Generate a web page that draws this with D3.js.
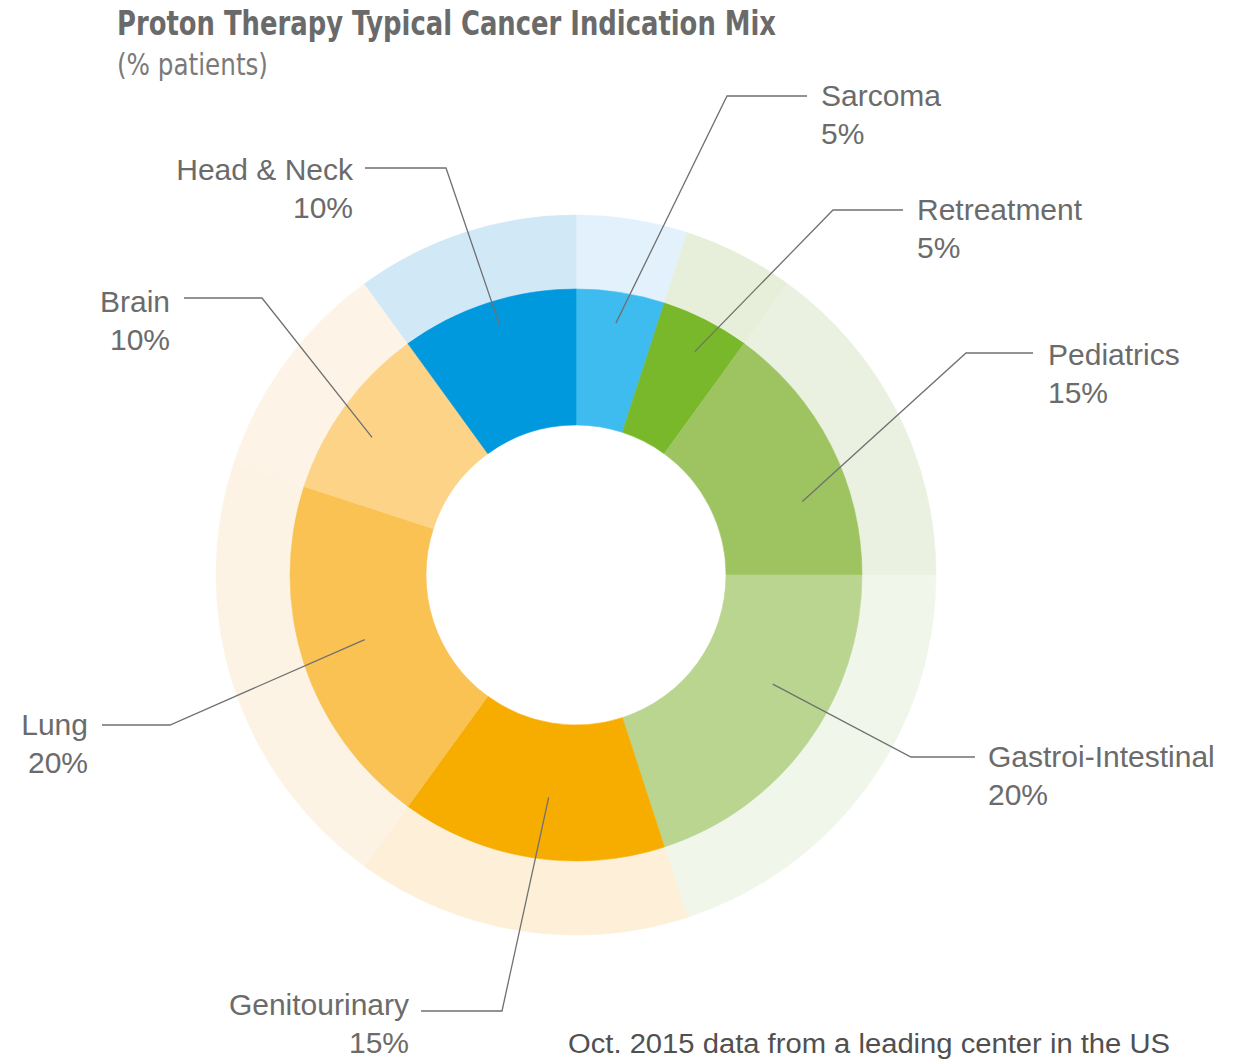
<!DOCTYPE html>
<html>
<head>
<meta charset="utf-8">
<script src="https://cdn.jsdelivr.net/npm/d3@7"></script>
<style>
  html, body { margin:0; padding:0; background:#fff; }
  svg { display:block; }
  .lbl { font-family:"Liberation Sans", Arial, sans-serif; font-size:30px; fill:#6b6b6b; }
  .leader { fill:none; stroke:#707070; stroke-width:1.3; }
</style>
</head>
<body>
<svg id="chart" width="1238" height="1061"></svg>
<script>
// ---- data ----
const CATEGORIES = ["Sarcoma","Retreatment","Pediatrics","Gastroi-Intestinal","Genitourinary","Lung","Brain","Head & Neck"];
const VALUES     = [5, 5, 15, 20, 15, 20, 10, 10];
const COLORS     = ["#3ebcef","#79b82b","#9dc460","#b9d58f","#f7ac00","#f9c252","#fcd387","#0099dd"];
const OUTER_COLORS = ["#e2f1fb","#e7efda","#ebf1e1","#f1f6ea","#fdefd8","#fdf3e4","#fdf4e7","#d1e8f7"];

// label layout: anchor inside slice (angle nudge deg, radius), elbow, text anchor
const LAYOUT = [
  { nudge:  0, r:255, elbow:[727, 96],  end:[807, 96],  tx:821,  ty:106, anchor:"start" },
  { nudge:  1, r:253, elbow:[833, 210], end:[903, 210], tx:917,  ty:220, anchor:"start" },
  { nudge:  9, r:238, elbow:[966, 353], end:[1033,353], tx:1048, ty:365, anchor:"start" },
  { nudge: -7, r:225, elbow:[911, 757], end:[975, 757], tx:988,  ty:767, anchor:"start" },
  { nudge: -2, r:224, elbow:[502,1011], end:[421,1011], tx:409,  ty:1015, anchor:"end" },
  { nudge:  1, r:221, elbow:[170, 725], end:[102, 725], tx:88,   ty:735, anchor:"end" },
  { nudge: -2, r:246, elbow:[262, 298], end:[184, 298], tx:170,  ty:312, anchor:"end" },
  { nudge:  1, r:261, elbow:[446, 168], end:[365, 168], tx:353,  ty:180, anchor:"end" }
];

const svg = d3.select("#chart");
const cx = 576, cy = 575;
const R_IN = 150, R_MID = 286, R_OUT = 360;

const rows = CATEGORIES.map((c,i)=>({ name:c, value:VALUES[i], color:COLORS[i], outer:OUTER_COLORS[i], lay:LAYOUT[i] }));

const pie = d3.pie().sort(null).value(d=>d.value).startAngle(0).endAngle(2*Math.PI);
const arcs = pie(rows);

const g = svg.append("g").attr("transform", `translate(${cx},${cy})`);

const outerArc = d3.arc().innerRadius(R_MID).outerRadius(R_OUT);
const innerArc = d3.arc().innerRadius(R_IN).outerRadius(R_MID);

g.selectAll("path.outer").data(arcs).join("path")
  .attr("class","outer")
  .attr("d", outerArc)
  .attr("fill", d=>d.data.outer)
  .attr("stroke", d=>d.data.outer).attr("stroke-width",0.6);

g.selectAll("path.inner").data(arcs).join("path")
  .attr("class","inner")
  .attr("d", innerArc)
  .attr("fill", d=>d.data.color)
  .attr("stroke", d=>d.data.color).attr("stroke-width",0.6);

// leader lines
const line = d3.line();
svg.selectAll("path.leader").data(arcs).join("path")
  .attr("class","leader")
  .attr("d", d=>{
    const L = d.data.lay;
    const a = (d.startAngle + d.endAngle)/2 + L.nudge*Math.PI/180;
    const p0 = [cx + L.r*Math.sin(a), cy - L.r*Math.cos(a)];
    return line([p0, L.elbow, L.end]);
  });

// labels
const lbl = svg.selectAll("text.lbl").data(arcs).join("text")
  .attr("class","lbl")
  .attr("text-anchor", d=>d.data.lay.anchor);
lbl.append("tspan").attr("x", d=>d.data.lay.tx).attr("y", d=>d.data.lay.ty).text(d=>d.data.name);
lbl.append("tspan").attr("x", d=>d.data.lay.tx).attr("y", d=>d.data.lay.ty+38).text(d=>d.data.value+"%");

// titles
svg.append("text")
  .attr("x",117).attr("y",35)
  .attr("textLength",659).attr("lengthAdjust","spacingAndGlyphs")
  .style("font-family",'"Liberation Sans Narrow","DejaVu Sans Condensed",Arial,sans-serif')
  .style("font-weight","bold").style("font-size","34px").style("fill","#6a6a6a")
  .text("Proton Therapy Typical Cancer Indication Mix");

svg.append("text")
  .attr("x",117).attr("y",75)
  .attr("textLength",151).attr("lengthAdjust","spacingAndGlyphs")
  .style("font-family",'"Liberation Sans Narrow","DejaVu Sans Condensed",Arial,sans-serif')
  .style("font-size","31px").style("fill","#7a7a7a")
  .text("(% patients)");

svg.append("text")
  .attr("x",568).attr("y",1053)
  .attr("textLength",602).attr("lengthAdjust","spacingAndGlyphs")
  .style("font-family",'"Liberation Sans",Arial,sans-serif')
  .style("font-size","27px").style("fill","#505050")
  .text("Oct. 2015 data from a leading center in the US");
</script>
</body>
</html>
